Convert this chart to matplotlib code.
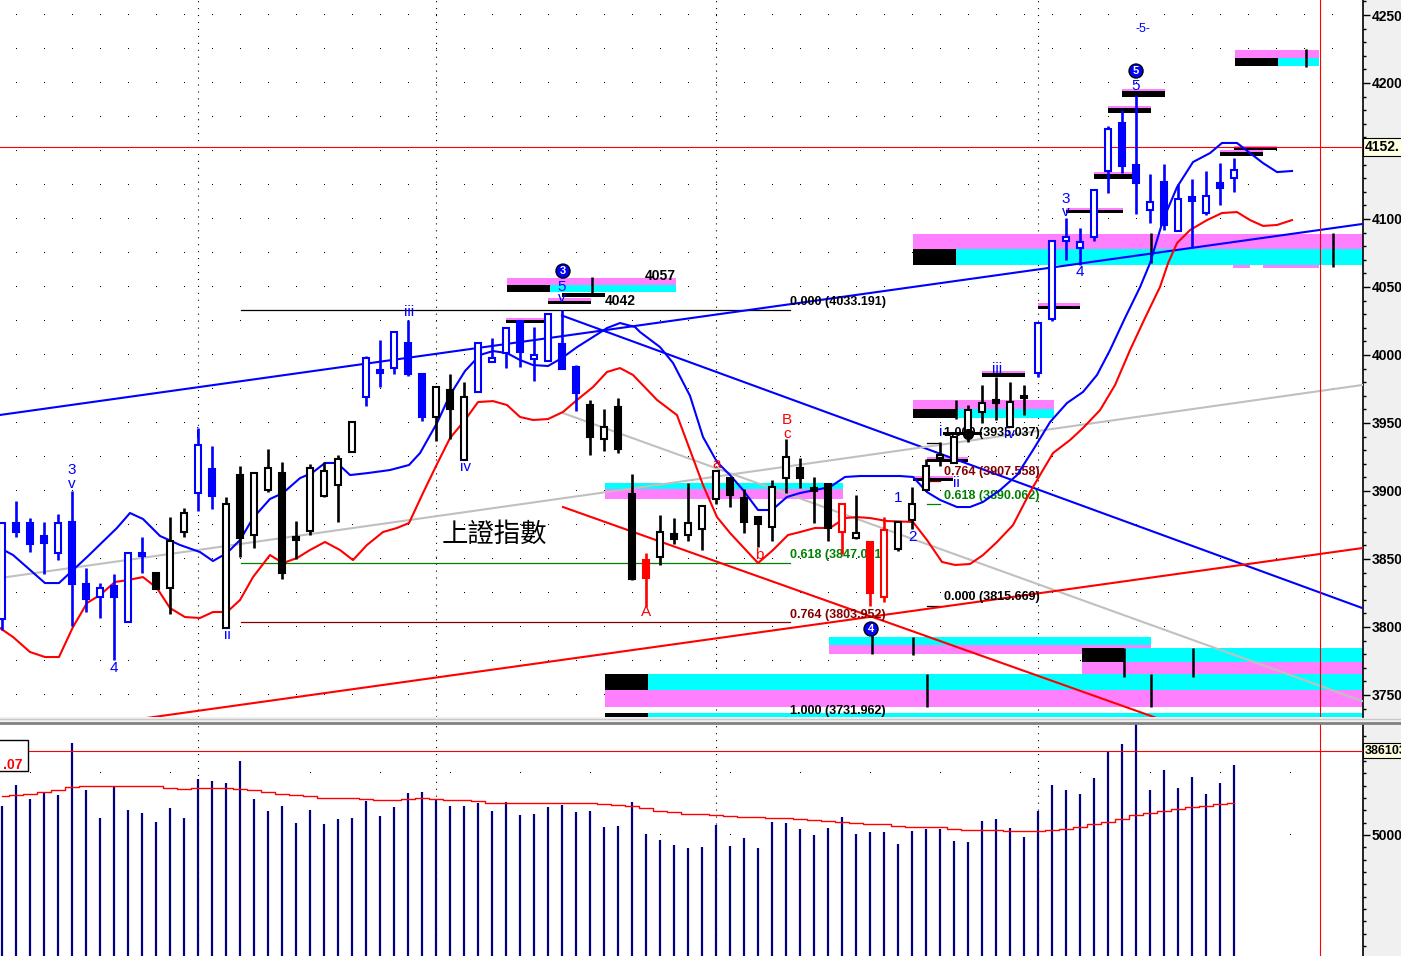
import numpy as np
import matplotlib.pyplot as plt
from matplotlib.patches import Rectangle
from matplotlib import font_manager
import matplotlib.transforms as mtransforms

_names = {f.name for f in font_manager.fontManager.ttflist}
NARROW = 'Liberation Sans Narrow' if 'Liberation Sans Narrow' in _names else 'Liberation Sans'
FIBSIZE = 10 if NARROW == 'Liberation Sans Narrow' else 9
SANS = 'Liberation Sans'
CJK = 'Noto Sans CJK TC'

# ---- daily bars (index 0..88) ----
opens = [3805.9, 3876.4, 3876.4, 3866.9, 3854.4, 3877.2, 3831.6, 3822.0, 3830.1, 3803.6,
         3854.4, 3839.7, 3828.6, 3869.8, 3898.5, 3916.1, 3799.2, 3911.7, 3867.6, 3900.7,
         3913.2, 3866.1, 3870.6, 3896.3, 3904.4, 3928.6, 3969.1, 3988.9, 3990.4, 4008.8,
         3986.0, 3954.4, 3974.2, 3922.8, 3972.8, 3994.8, 4001.4, 4025.0, 3997.0, 3995.6,
         4008.1, 3991.1, 3963.2, 3938.2, 3961.7, 3897.8, 3849.2, 3851.4, 3868.3, 3867.6,
         3872.0, 3894.1, 3909.5, 3894.8, 3880.8, 3873.5, 3909.5, 3916.9, 3902.2, 3905.1,
         3869.8, 3865.4, 3862.5, 3822.0, 3857.3, 3878.6, 3900.7, 3924.2, 3920.6, 3939.7,
         3958.1, 3966.9, 3947.0, 3969.8, 3986.7, 4026.4, 4083.8, 4078.6, 4086.7, 4135.3,
         4170.6, 4139.7, 4106.6, 4127.2, 4091.1, 4116.1, 4104.4, 4126.4, 4130.1]
highs = [3876.4, 3892.6, 3880.1, 3877.2, 3883.1, 3900.0, 3843.3, 3832.3, 3838.9, 3854.4,
         3866.1, 3839.7, 3880.8, 3887.5, 3946.3, 3933.1, 3895.6, 3918.4, 3913.2, 3930.9,
         3921.3, 3877.9, 3919.8, 3921.3, 3926.4, 3950.7, 3999.2, 4011.0, 4016.9, 4025.7,
         3986.0, 3976.4, 3986.0, 3980.1, 4008.8, 4012.5, 4019.8, 4025.0, 4020.6, 4030.1,
         4033.2, 3992.6, 3966.9, 3960.3, 3968.4, 3912.5, 3854.4, 3882.3, 3880.1, 3905.9,
         3888.9, 3914.7, 3909.5, 3901.4, 3880.8, 3908.1, 3938.2, 3924.2, 3910.3, 3905.1,
         3890.4, 3897.0, 3862.5, 3880.8, 3877.2, 3902.9, 3923.5, 3936.0, 3939.7, 3963.2,
         3977.9, 3983.8, 3980.1, 3977.9, 4023.5, 4083.8, 4100.7, 4093.4, 4121.3, 4168.4,
         4180.1, 4191.1, 4133.1, 4140.4, 4125.7, 4129.4, 4135.3, 4141.1, 4144.8]
lows = [3797.8, 3866.1, 3855.1, 3838.9, 3849.2, 3800.7, 3811.0, 3806.6, 3775.7, 3803.6,
        3839.7, 3827.9, 3809.5, 3866.1, 3885.3, 3886.7, 3799.2, 3851.4, 3858.1, 3899.2,
        3835.3, 3850.0, 3867.6, 3895.6, 3877.2, 3928.6, 3962.5, 3976.4, 3986.0, 3984.5,
        3951.4, 3936.7, 3938.2, 3922.8, 3972.8, 3994.8, 3990.4, 3991.1, 3980.9, 3995.6,
        3989.7, 3958.8, 3926.4, 3929.4, 3927.9, 3834.5, 3814.7, 3845.6, 3861.0, 3863.2,
        3856.6, 3890.4, 3888.2, 3869.1, 3858.8, 3863.2, 3898.5, 3902.2, 3876.4, 3863.2,
        3853.6, 3864.7, 3815.7, 3818.3, 3855.8, 3872.0, 3900.0, 3918.4, 3920.6, 3936.0,
        3950.0, 3952.2, 3947.0, 3955.8, 3983.8, 4025.0, 4069.8, 4066.1, 4083.8, 4119.1,
        4133.8, 4103.6, 4097.0, 4091.9, 4091.1, 4078.6, 4102.9, 4110.3, 4119.8]
closes = [3876.4, 3869.8, 3861.0, 3861.7, 3876.4, 3831.6, 3820.6, 3828.6, 3822.0, 3854.4,
          3852.2, 3827.9, 3863.2, 3883.8, 3933.8, 3896.3, 3890.4, 3865.4, 3913.2, 3916.9,
          3839.7, 3863.9, 3916.9, 3914.7, 3923.5, 3950.7, 3997.8, 3986.7, 4016.9, 3986.0,
          3954.4, 3976.4, 3960.3, 3969.1, 4008.8, 3997.8, 4019.8, 4002.2, 4000.0, 4030.1,
          3989.7, 3972.0, 3939.7, 3947.0, 3930.9, 3835.3, 3836.0, 3869.8, 3864.7, 3876.4,
          3888.9, 3914.7, 3897.0, 3877.2, 3875.7, 3902.9, 3925.0, 3909.5, 3900.0, 3872.8,
          3890.4, 3869.1, 3825.0, 3871.3, 3877.2, 3890.4, 3918.4, 3926.4, 3939.7, 3959.5,
          3964.7, 3964.7, 3965.4, 3968.4, 4023.5, 4083.8, 4086.7, 4083.1, 4121.3, 4166.1,
          4138.9, 4126.4, 4112.5, 4095.6, 4114.7, 4113.2, 4116.9, 4122.8, 4136.0]
bar_colors = ("bbbbbbbbbbb" + "kkk" + "bb" + "kkkkkkkkkk" + "bbbbb" + "kkk" + "bbbbbbbb" +
              "kkkk" + "r" + "kkkkkkkkkkkkk" + "r" + "k" + "rr" + "kkkkkkkkkk" + "bbbbbbbbbbbbbbb")

volumes = [283, 322, 296, 309, 303, 402, 313, 260, 321, 275,
           269, 252, 279, 260, 333, 330, 326, 367, 296, 273,
           283, 250, 275, 249, 258, 260, 292, 264, 281, 307,
           309, 296, 283, 283, 288, 273, 290, 266, 267, 281,
           284, 271, 273, 243, 245, 290, 230, 218, 209, 203,
           205, 247, 207, 222, 203, 252, 250, 239, 228, 241,
           262, 230, 233, 233, 211, 235, 239, 239, 217, 215,
           254, 258, 241, 224, 273, 322, 313, 305, 335, 386,
           399, 470, 313, 350, 316, 337, 305, 326, 360]
vol_ma = [301, 304, 306, 309, 313, 318, 320, 320, 321, 321,
          321, 320, 317, 314, 316, 316, 316, 314, 313, 309,
          306, 303, 301, 298, 297, 297, 295, 293, 293, 296,
          297, 295, 293, 293, 292, 289, 288, 289, 288, 288,
          288, 288, 288, 287, 284, 282, 278, 274, 271, 268,
          267, 266, 264, 262, 261, 260, 259, 258, 257, 255,
          253, 251, 249, 248, 245, 242, 242, 242, 240, 237,
          237, 237, 235, 235, 235, 237, 239, 242, 248, 252,
          258, 265, 269, 273, 277, 280, 282, 286, 289]

# ---- shifted moving averages (bar position, value) ----
blue_x = [-0.14, 0.79, 3.07, 4.07, 6.07, 8.21, 9.14, 10.07, 11.29, 12.71,
          14.14, 15.07, 16.07, 17.0, 17.93, 19.14, 20.07, 21.29, 22.14, 23.07,
          23.93, 24.86, 26.14, 27.71, 29.07, 29.86, 31.07, 32.0, 33.07, 34.14,
          35.07, 36.07, 37.0, 37.93, 39.0, 40.0, 41.07, 42.21, 43.21, 44.14,
          45.21, 45.57, 47.0, 47.93, 49.14, 50.07, 51.07, 52.0, 52.93, 54.0,
          55.0, 56.07, 57.0, 58.07, 59.14, 60.21, 61.29, 64.14, 65.07, 66.07,
          67.0, 68.21, 69.14, 70.07, 71.29, 72.5, 73.64, 74.86, 76.07, 77.21,
          78.21, 79.14, 80.21, 81.29, 82.0, 82.93, 83.93, 85.07, 86.29, 87.14,
          88.21, 89.14, 90.07, 91.07, 92.14]
blue_y = [3858.0, 3852.9, 3832.3, 3832.3, 3851.4, 3872.8, 3883.8, 3879.4, 3866.9, 3860.3,
          3855.1, 3848.5, 3854.4, 3863.9, 3880.1, 3894.1, 3898.5, 3909.5, 3913.2, 3920.6,
          3920.6, 3911.7, 3913.2, 3915.4, 3919.1, 3927.9, 3950.0, 3970.6, 3988.2, 4000.0,
          4002.9, 4001.4, 3996.3, 3992.6, 3991.9, 3997.8, 4005.8, 4013.2, 4019.8, 4023.5,
          4020.6, 4016.9, 4005.8, 3994.1, 3970.0, 3939.7, 3921.3, 3911.7, 3900.7, 3886.0,
          3886.0, 3895.6, 3898.5, 3900.7, 3902.9, 3910.3, 3911.0, 3911.0, 3910.3, 3899.2,
          3893.4, 3888.2, 3888.2, 3891.9, 3900.7, 3911.7, 3930.1, 3950.7, 3964.7, 3972.8,
          3985.3, 4003.6, 4027.2, 4050.0, 4067.6, 4099.2, 4123.5, 4141.9, 4148.5, 4155.9,
          4155.9, 4148.5, 4141.1, 4134.5, 4135.3]
red_x = [-0.14, 0.79, 2.0, 3.07, 4.07, 5.07, 6.07, 7.0, 8.07, 9.0,
         10.07, 11.07, 12.0, 13.07, 14.14, 15.07, 16.07, 17.0, 17.93, 19.14,
         20.07, 21.07, 22.0, 23.07, 24.14, 25.07, 26.07, 27.21, 28.21, 29.07,
         30.07, 31.07, 32.0, 33.07, 34.0, 35.07, 36.07, 37.0, 37.93, 39.0,
         40.07, 41.07, 42.21, 43.21, 44.14, 45.07, 46.79, 48.21, 49.14, 50.07,
         51.07, 52.0, 52.93, 54.0, 55.07, 56.14, 57.0, 58.07, 59.14, 60.21,
         61.07, 62.0, 63.21, 65.07, 66.07, 67.14, 68.07, 69.14, 70.07, 71.07,
         72.21, 73.43, 74.14, 75.07, 76.29, 77.21, 78.43, 79.5, 80.57, 81.64,
         82.71, 83.29, 83.93, 84.86, 86.07, 87.14, 88.21, 89.14, 90.07, 91.07, 92.14]
red_y = [3799.2, 3792.6, 3781.6, 3777.9, 3777.9, 3800.0, 3817.6, 3823.5, 3833.1, 3834.5,
         3836.7, 3828.6, 3813.9, 3807.3, 3806.6, 3811.0, 3811.0, 3819.8, 3836.7, 3852.9,
         3847.0, 3850.7, 3856.6, 3862.5, 3856.6, 3849.2, 3860.3, 3869.8, 3872.8, 3876.4,
         3898.5, 3919.8, 3938.9, 3952.2, 3965.4, 3966.1, 3963.2, 3954.4, 3952.2, 3952.9,
         3958.1, 3966.9, 3976.4, 3987.5, 3990.4, 3985.3, 3966.9, 3955.8, 3930.1, 3904.4,
         3880.8, 3869.1, 3858.8, 3847.0, 3856.6, 3867.6, 3869.8, 3872.8, 3872.8, 3880.1,
         3880.8, 3880.1, 3877.9, 3877.2, 3863.9, 3847.8, 3845.6, 3846.3, 3852.9, 3862.5,
         3874.9, 3899.2, 3911.7, 3927.9, 3937.5, 3946.3, 3959.5, 3977.9, 4003.6, 4027.2,
         4050.0, 4067.6, 4082.3, 4091.9, 4099.2, 4104.4, 4105.1, 4099.2, 4094.9, 4095.6, 4099.2]

# ---- trend lines: (x0, y0, x1, y1, color) ----
trend_lines = [(-0.14, 3955.9, 97.14, 4096.3, '#0000ff'),
               (40.0, 4029.0, 97.14, 3814.0, '#0000ff'),
               (-0.14, 3836.0, 97.14, 3977.9, '#c0c0c0'),
               (40.07, 3957.3, 97.14, 3745.6, '#c0c0c0'),
               (40.07, 3888.2, 97.14, 3679.4, '#ff0000'),
               (-0.14, 3718.0, 97.14, 3858.0, '#ff0000')]

# ---- fibonacci levels ----
fib_left = [(4033.191, '0.000 (4033.191)', '#000000', 4038.9),
            (3847.031, '0.618 (3847.031)', '#008000', 3852.9),
            (3803.952, '0.764 (3803.952)', '#800000', 3808.8),
            (3731.962, '1.000 (3731.962)', '#000000', 3738.2)]
fib_right = [(3935.037, '1.000 (3935.037)', '#000000', 3942.6),
             (3907.558, '0.764 (3907.558)', '#800000', 3914.0),
             (3890.062, '0.618 (3890.062)', '#008000', 3896.3),
             (3815.669, '0.000 (3815.669)', '#000000', 3822.0)]

# ---- coloured zones: (x0, x1, y0, y1, colour) ----
zones = [
    (36.07, 48.14, 4051.4, 4056.6, '#ff80ff'), (36.07, 39.14, 4046.3, 4051.4, '#000000'),
    (39.14, 48.14, 4046.3, 4051.4, '#00ffff'),
    (40.0, 43.07, 4042.6, 4045.6, '#000000'),
    (39.0, 42.07, 4039.7, 4041.9, '#ff80ff'), (39.0, 42.07, 4037.5, 4039.7, '#000000'),
    (36.0, 39.07, 4025.7, 4027.2, '#ff80ff'), (36.0, 39.07, 4023.5, 4025.7, '#000000'),
    (43.07, 60.07, 3901.4, 3905.9, '#00ffff'), (43.07, 60.07, 3894.1, 3901.4, '#ff80ff'),
    (65.07, 75.14, 3960.3, 3966.9, '#ff80ff'), (65.07, 68.14, 3953.6, 3960.3, '#000000'),
    (68.14, 75.14, 3953.6, 3960.3, '#00ffff'),
    (65.07, 97.3, 4077.9, 4088.9, '#ff80ff'), (65.07, 68.14, 4066.2, 4077.9, '#000000'),
    (68.14, 97.3, 4066.2, 4077.9, '#00ffff'),
    (87.93, 89.14, 4063.9, 4066.2, '#ff80ff'), (90.07, 94.07, 4063.9, 4066.2, '#ff80ff'),
    (88.07, 94.07, 4218.4, 4224.3, '#ff80ff'), (88.07, 91.14, 4212.5, 4218.4, '#000000'),
    (91.14, 94.07, 4212.5, 4218.4, '#00ffff'),
    (59.07, 82.07, 3786.7, 3792.6, '#00ffff'), (59.07, 82.07, 3780.1, 3786.7, '#ff80ff'),
    (77.14, 80.14, 3774.3, 3784.5, '#000000'), (80.14, 97.3, 3774.3, 3784.5, '#00ffff'),
    (77.14, 97.3, 3763.2, 3774.3, '#ff80ff'),
    (43.07, 46.14, 3753.7, 3765.4, '#000000'), (46.14, 97.3, 3753.7, 3765.4, '#00ffff'),
    (43.07, 97.3, 3741.2, 3753.7, '#ff80ff'),
    (43.07, 46.14, 3730.0, 3736.8, '#000000'), (46.14, 97.3, 3730.0, 3736.8, '#00ffff'),
    # short pivot markers
    (76.0, 80.07, 4106.6, 4108.1, '#ff80ff'), (76.0, 80.07, 4104.4, 4106.6, '#000000'),
    (78.0, 80.86, 4133.1, 4134.5, '#ff80ff'), (78.0, 80.86, 4129.4, 4133.1, '#000000'),
    (79.0, 82.07, 4181.6, 4183.1, '#ff80ff'), (79.0, 82.07, 4177.9, 4181.6, '#000000'),
    (80.0, 83.07, 4194.1, 4195.6, '#ff80ff'), (80.0, 83.07, 4189.7, 4194.1, '#000000'),
    (87.0, 90.07, 4149.2, 4150.7, '#ff80ff'), (87.0, 90.07, 4146.3, 4149.2, '#000000'),
    (88.0, 91.07, 4152.2, 4153.7, '#ff80ff'), (88.0, 91.07, 4150.9, 4152.2, '#000000'),
    (74.0, 77.0, 4036.0, 4038.2, '#ff80ff'), (74.0, 77.0, 4033.8, 4036.0, '#000000'),
    (70.0, 73.07, 3986.7, 3988.2, '#ff80ff'), (70.0, 73.07, 3983.8, 3986.7, '#000000'),
    (66.07, 69.0, 3923.5, 3925.0, '#ff80ff'), (66.07, 69.0, 3921.3, 3923.5, '#000000'),
    (67.2, 70.0, 3941.2, 3943.4, '#000000'),
    (65.07, 67.93, 3909.5, 3911.0, '#ff80ff'), (65.07, 67.93, 3907.3, 3909.5, '#000000'),
]
# thin black verticals inside zones: (x, y0, y1)
zone_marks = [(42.14, 4045.5, 4057.0), (68.14, 3952.9, 3966.9), (82.07, 4067.6, 4089.7),
              (95.07, 4064.7, 4089.7), (93.14, 4211.8, 4225.0), (62.14, 3780.1, 3795.6),
              (65.07, 3779.4, 3792.6), (80.14, 3763.2, 3784.5), (85.07, 3763.2, 3784.5),
              (66.07, 3741.2, 3765.4), (82.07, 3741.2, 3765.4)]

# ---- wave labels: (x, y, text, colour, size) ----
wave_labels = [(5, 3915.4, '3', '#0000ff', 11), (5, 3905.1, 'v', '#0000ff', 11),
               (8, 3769.8, '4', '#0000ff', 11), (14, 3941.9, 'i', '#0000ff', 11),
               (16.07, 3794.1, 'ii', '#0000ff', 11), (29.07, 4031.6, 'iii', '#0000ff', 11),
               (33.07, 3917.6, 'iv', '#0000ff', 11), (40.0, 4050.0, '5', '#0000ff', 11),
               (40.0, 4041.9, 'v', '#0000ff', 11), (46.0, 3811.0, 'A', '#ff0000', 11),
               (51.07, 3919.8, 'a', '#ff0000', 11), (54.07, 3852.9, 'b', '#ff0000', 11),
               (56.07, 3952.2, 'B', '#ff0000', 11), (56.07, 3941.9, 'c', '#ff0000', 11),
               (64.0, 3894.8, '1', '#0000ff', 11), (65.0, 3866.1, '2', '#0000ff', 11),
               (67.07, 3943.4, 'i', '#0000ff', 11), (68.14, 3905.9, 'ii', '#0000ff', 11),
               (71.07, 3989.7, 'iii', '#0000ff', 11), (71.93, 3941.9, 'iv', '#0000ff', 11),
               (76.0, 4114.7, '3', '#0000ff', 11), (76.0, 4105.1, 'v', '#0000ff', 11),
               (77.0, 4061.0, '4', '#0000ff', 11), (81.0, 4197.8, '5', '#0000ff', 11),
               (81.5, 4239.7, '-5-', '#0000ff', 9)]
circled = [(40.07, 4061.7, '3'), (62.07, 3798.5, '4'), (81.0, 4208.8, '5')]

month_starts = [14, 31, 51, 74]
cross_x, cross_price, cross_vol = 94.14, 4152.9, 386.1

# ================= figure =================
fig = plt.figure(figsize=(14.01, 9.56), dpi=100, facecolor='#f0f0f0')
AXW = 1363 / 1401
ax = fig.add_axes([0, 0.25, AXW, 0.75], facecolor='white')
axv = fig.add_axes([0, 0, AXW, 232 / 956], facecolor='white')
fig.add_artist(plt.Line2D([0, 1], [1 - 718.5 / 956] * 2, color='#c8c8c8', lw=1))
fig.add_artist(plt.Line2D([0, 1], [1 - 723 / 956] * 2, color='#808080', lw=2))

xmin, xmax = -0.143, 97.21
ax.set_xlim(xmin, xmax)
ax.set_ylim(3733.8, 4261.03)
axv.set_xlim(xmin, xmax)
axv.set_ylim(0, 436.9)

for a in (ax, axv):
    for s in ('left', 'top', 'bottom'):
        a.spines[s].set_visible(False)
    a.spines['right'].set_linewidth(1.2)
    a.set_xticks([])
    a.yaxis.tick_right()

# price axis ticks
ax.set_yticks(range(3750, 4251, 50))
ax.set_yticks(range(3740, 4261, 10), minor=True)
ax.tick_params(axis='y', which='major', length=5, width=1, pad=1, labelsize=10)
ax.tick_params(axis='y', which='minor', length=2, width=1)
for t in ax.get_yticklabels():
    t.set_fontweight('bold')
    t.set_family(SANS)
ax.text(1.0015, cross_price, '4152.', transform=mtransforms.blended_transform_factory(ax.transAxes, ax.transData),
        ha='left', va='center', fontsize=10, fontweight='bold', family=SANS, clip_on=False, zorder=10,
        bbox=dict(boxstyle='square,pad=0.15', fc='#ffffe1', ec='black', lw=0.8))

# volume axis ticks
axv.set_yticks([227.9])
axv.set_yticklabels(['50000'])
axv.set_yticks(np.arange(227.9 - 23.2 * 9, 436, 23.2), minor=True)
axv.tick_params(axis='y', which='major', length=5, width=1, pad=1, labelsize=10)
axv.tick_params(axis='y', which='minor', length=2, width=1)
for t in axv.get_yticklabels():
    t.set_fontweight('bold')
    t.set_family(SANS)
axv.text(1.001, cross_vol, '386103', transform=mtransforms.blended_transform_factory(axv.transAxes, axv.transData),
         ha='left', va='center', fontsize=FIBSIZE, fontweight='bold', family=NARROW, clip_on=False, zorder=10,
         bbox=dict(boxstyle='square,pad=0.12', fc='#ffffe1', ec='black', lw=0.8))

# dotted grid
for lev in range(3750, 4251, 25):
    ax.plot(np.arange(1, 97, 2), [lev] * 48, ',', color='black', zorder=0)
for lev in (227.9, 344.6):
    axv.plot(np.arange(2, 97, 5), [lev] * 19, ',', color='black', zorder=0)
for m in month_starts:
    ax.axvline(m, color='black', lw=0.8, ls=(0, (1, 5.25)), zorder=0)
    axv.axvline(m, color='black', lw=0.8, ls=(0, (1, 5.25)), zorder=0)

# zones
for x0, x1, y0, y1, col in zones:
    ax.add_patch(Rectangle((x0, y0), x1 - x0, y1 - y0, fc=col, ec='none', zorder=1))
for x, y0, y1 in zone_marks:
    ax.plot([x, x], [y0, y1], color='black', lw=1.8, zorder=2, solid_capstyle='butt')

# trend lines
for x0, y0, x1, y1, col in trend_lines:
    ax.plot([x0, x1], [y0, y1], color=col, lw=1.5, zorder=3)

# fibonacci
for lvl, txt, col, ty in fib_left:
    ax.plot([17.07, 56.29], [lvl, lvl], color=col, lw=0.9, zorder=2)
    ax.text(56.29, ty, txt, color=col, fontsize=FIBSIZE, fontweight='bold', family=NARROW,
            ha='left', va='center', zorder=4)
for lvl, txt, col, ty in fib_right:
    ax.plot([66.07, 67.0], [lvl, lvl], color=col, lw=0.9, zorder=2)
    ax.text(67.25, ty, txt, color=col, fontsize=FIBSIZE, fontweight='bold', family=NARROW,
            ha='left', va='center', zorder=4)
ax.text(48.14, 4058.1, '4057', fontsize=FIBSIZE + 1, fontweight='bold', family=NARROW, ha='right', va='center', zorder=4)
ax.text(43.07, 4039.7, '4042', fontsize=FIBSIZE + 1, fontweight='bold', family=NARROW, ha='left', va='center', zorder=4)

# moving averages
ax.plot(blue_x, blue_y, color='#0000ff', lw=1.5, zorder=5)
ax.plot(red_x, red_y, color='#ff0000', lw=1.5, zorder=5)

# candles
cmap = {'b': '#0000ff', 'k': '#000000', 'r': '#ff0000'}
bw = 0.40
for i in range(len(opens)):
    o, h, l, c = opens[i], highs[i], lows[i], closes[i]
    col = cmap[bar_colors[i]]
    ax.plot([i, i], [l, h], color=col, lw=1.9, zorder=6, solid_capstyle='butt')
    lo, hi = min(o, c), max(o, c)
    if hi - lo < 1.5:
        mid = (hi + lo) / 2
        lo, hi = mid - 0.75, mid + 0.75
    face = 'white' if c > o else col
    ax.add_patch(Rectangle((i - bw / 2, lo), bw, hi - lo, fc=face, ec=col, lw=1.5, zorder=7))
ax.plot([69], [3941.9], 'o', color='black', ms=7, zorder=8)

# labels
for x, y, s, col, size in wave_labels:
    ax.text(x, y, s, color=col, fontsize=size, family=SANS, ha='center', va='center', zorder=9)
for x, y, s in circled:
    ax.text(x, y, s, color='white', fontsize=8, fontweight='bold', family=SANS, ha='center', va='center',
            zorder=9, bbox=dict(boxstyle='circle,pad=0.18', fc='#0000ff', ec='black', lw=1))
ax.text(35.14, 3868.4, '上證指數', fontsize=19, family=[CJK, 'DejaVu Sans'], ha='center', va='center', zorder=9)

# crosshair
ax.axhline(cross_price, color='#ff0000', lw=0.8, zorder=4)
ax.axvline(cross_x, color='#ff0000', lw=0.8, zorder=4)
axv.axvline(cross_x, color='#ff0000', lw=0.8, zorder=4)
axv.plot([1.86, xmax], [cross_vol, cross_vol], color='#ff0000', lw=0.8, zorder=4)

# volume
idx = np.arange(len(volumes))
axv.vlines(idx, 0, volumes, color='#000080', lw=1.6, zorder=2)
axv.plot(idx, vol_ma, color='#ff0000', lw=1.0, drawstyle='steps-mid', zorder=3)
axv.add_patch(Rectangle((-0.3, 348), 2.16, 58, fc='white', ec='black', lw=1, zorder=5))
axv.text(0.05, 359, '.07', color='#ff0000', fontsize=10, fontweight='bold', family=NARROW,
         ha='left', va='center', zorder=6)

fig.savefig('out.png', dpi=100, facecolor=fig.get_facecolor())
